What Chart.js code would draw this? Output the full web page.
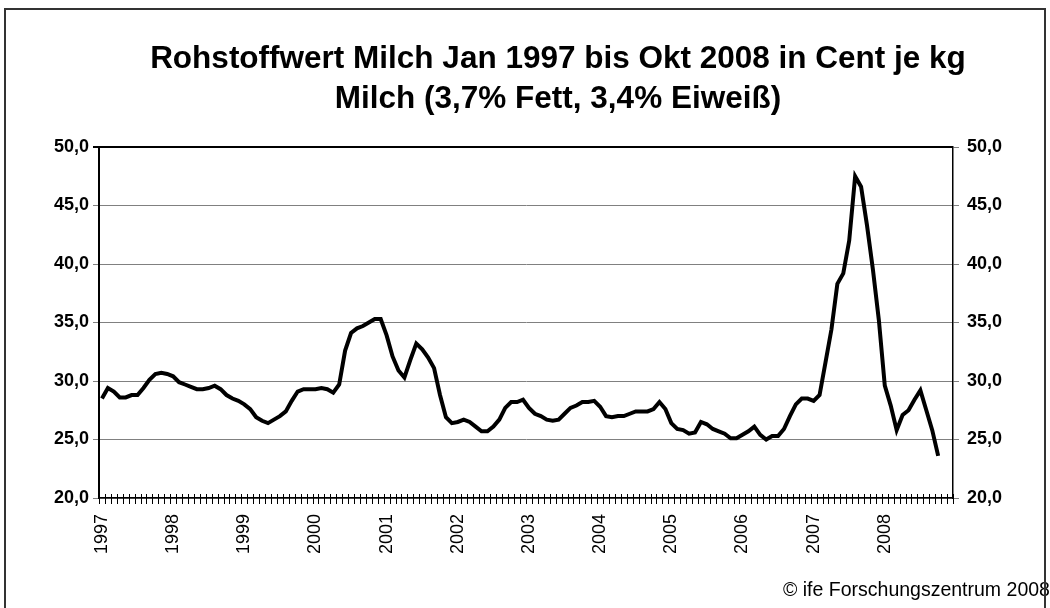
<!DOCTYPE html>
<html>
<head>
<meta charset="utf-8">
<script src="https://cdn.jsdelivr.net/npm/chart.js@4.4.0/dist/chart.umd.min.js"></script>
<style>
  body { margin: 0; background: #fff; font-family: "Liberation Sans", Arial, sans-serif; }
  #wrap { position: relative; width: 1050px; height: 608px; overflow: hidden; }
  #frame { position: absolute; left: 4px; top: 8px; width: 1042px; height: 640px; border: 2px solid #333; box-sizing: border-box; pointer-events: none; }
  #title { position: absolute; left: 0; width: 1116px; top: 37px; text-align: center; font-weight: bold; font-size: 31.5px; line-height: 40px; color: #000; }
  #copy { position: absolute; left: 783px; top: 579px; font-size: 19.5px; line-height: 20px; white-space: nowrap; color: #000; }
  canvas { position: absolute; left: 0; top: 0; }
</style>
</head>
<body>
<div id="wrap">
  <canvas id="chart" width="1050" height="608"></canvas>
  <div id="title">Rohstoffwert Milch Jan 1997 bis Okt 2008 in Cent je kg<br>Milch (3,7% Fett, 3,4% Eiweiß)</div>
  <div id="copy">© ife Forschungszentrum 2008</div>
  <div id="frame"></div>
</div>
<script>
// Jahre (Beschriftung der x-Achse), Monate je Jahr
const years = ['1997','1998','1999','2000','2001','2002','2003','2004','2005','2006','2007','2008'];
const months = ['Jan','Feb','Mrz','Apr','Mai','Jun','Jul','Aug','Sep','Okt','Nov','Dez'];

// Rohstoffwert in Cent je kg, Jan..Dez
const v1997 = [28.5, 29.4, 29.1, 28.6, 28.6, 28.8, 28.8, 29.4, 30.1, 30.6, 30.7, 30.6];
const v1998 = [30.4, 29.9, 29.7, 29.5, 29.3, 29.3, 29.4, 29.6, 29.3, 28.8, 28.5, 28.3];
const v1999 = [28.0, 27.6, 26.9, 26.6, 26.4, 26.7, 27.0, 27.4, 28.3, 29.1, 29.3, 29.3];
const v2000 = [29.3, 29.4, 29.3, 29.0, 29.7, 32.6, 34.1, 34.5, 34.7, 35.0, 35.3, 35.3];
const v2001 = [33.9, 32.1, 30.9, 30.3, 31.8, 33.2, 32.7, 32.0, 31.1, 28.8, 26.9, 26.4];
const v2002 = [26.5, 26.7, 26.5, 26.1, 25.7, 25.7, 26.1, 26.7, 27.7, 28.2, 28.2, 28.4];
const v2003 = [27.7, 27.2, 27.0, 26.7, 26.6, 26.7, 27.2, 27.7, 27.9, 28.2, 28.2, 28.3];
const v2004 = [27.8, 27.0, 26.9, 27.0, 27.0, 27.2, 27.4, 27.4, 27.4, 27.6, 28.2, 27.6];
const v2005 = [26.4, 25.9, 25.8, 25.5, 25.6, 26.5, 26.3, 25.9, 25.7, 25.5, 25.1, 25.1];
const v2006 = [25.4, 25.7, 26.1, 25.4, 25.0, 25.3, 25.3, 25.9, 27.0, 28.0, 28.5, 28.5];
const v2007 = [28.3, 28.8, 31.6, 34.4, 38.3, 39.2, 42.0, 47.5, 46.6, 43.3, 39.5, 35.2];
const v2008 = [29.6, 27.9, 25.8, 27.1, 27.5, 28.4, 29.2, 27.5, 25.8, 23.6];

const yTicks = [20, 25, 30, 35, 40, 45, 50];

const labels = [];
years.forEach(y => months.forEach(m => labels.push(m + ' ' + y)));
const values = [].concat(v1997, v1998, v1999, v2000, v2001, v2002, v2003, v2004, v2005, v2006, v2007, v2008);

const fmt = v => v.toFixed(1).replace('.', ',');

// kleine Striche quer über die x-Achse, je Monat
const crossTicks = {
  id: 'crossTicks',
  afterDraw(chart) {
    const x = chart.scales.x;
    const ctx = chart.ctx;
    const half = (x.getPixelForValue(1) - x.getPixelForValue(0)) / 2;
    const yb = chart.chartArea.bottom;
    ctx.save();
    ctx.strokeStyle = '#000';
    ctx.lineWidth = 1;
    ctx.beginPath();
    for (let i = 0; i <= labels.length; i++) {
      const px = Math.round(x.getPixelForValue(i) - half) + 0.5;
      ctx.moveTo(px, yb - 4);
      ctx.lineTo(px, yb + 6);
    }
    ctx.stroke();
    ctx.restore();
  }
};

const tickFont = { family: '"Liberation Sans", Arial, sans-serif', size: 18, weight: 'bold' };

const ctx = document.getElementById('chart').getContext('2d');
const myChart = new Chart(ctx, {
  type: 'line',
  data: {
    labels: labels,
    datasets: [{
      label: 'Rohstoffwert',
      data: values,
      borderColor: '#000',
      borderWidth: 4,
      pointRadius: 0,
      tension: 0,
      fill: false,
      yAxisID: 'y'
    }]
  },
  options: {
    responsive: false,
    animation: false,
    devicePixelRatio: 1,
    layout: { padding: { top: 147, left: 0, right: 0, bottom: 0 } },
    plugins: {
      legend: { display: false },
      title: { display: false },
      tooltip: { enabled: false }
    },
    scales: {
      x: {
        offset: true,
        grid: { display: false },
        border: { display: true, color: '#000', width: 1.5 },
        ticks: {
          autoSkip: false,
          maxRotation: 90,
          minRotation: 90,
          padding: 8,
          color: '#000',
          font: { family: '"Liberation Sans", Arial, sans-serif', size: 18 },
          callback: (val, idx) => idx % 12 === 0 ? years[idx / 12] : ''
        },
        afterFit: s => { s.height = 608 - 498; }
      },
      y: {
        position: 'left',
        min: 20,
        max: 50,
        afterBuildTicks: s => { s.ticks = yTicks.map(v => ({ value: v })); },
        grid: {
          color: c => c.tick && c.tick.value === 50 ? '#000' : '#808080',
          lineWidth: c => c.tick && c.tick.value === 50 ? 2 : 1,
          tickLength: 6
        },
        border: { display: true, color: '#000', width: 2 },
        ticks: { color: '#000', font: tickFont, padding: 4, callback: v => fmt(v) },
        afterFit: s => { s.width = 99; }
      },
      y2: {
        position: 'right',
        display: true,
        min: 20,
        max: 50,
        afterBuildTicks: s => { s.ticks = yTicks.map(v => ({ value: v })); },
        grid: { drawOnChartArea: false, color: '#808080', tickLength: 6 },
        border: { display: true, color: '#000', width: 1.5 },
        ticks: { color: '#000', font: tickFont, padding: 8, callback: v => fmt(v) },
        afterFit: s => { s.width = 1050 - 953; }
      }
    }
  },
  plugins: [crossTicks]
});
</script>
</body>
</html>
